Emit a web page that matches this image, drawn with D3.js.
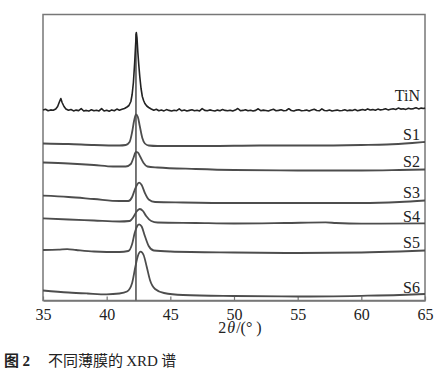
<!DOCTYPE html>
<html><head><meta charset="utf-8">
<script src="https://cdn.jsdelivr.net/npm/d3@7"></script>
<style>
html,body{margin:0;padding:0;background:#fff;}
svg{display:block;}
</style></head>
<body><svg id="chart" width="437" height="378"></svg>
<script>
// ---------- data (2θ in degrees, intensity in arbitrary units, curves stacked) ----------
const seriesNames = ["TiN","S1","S2","S3","S4","S5","S6"];
const xTicks = [35,40,45,50,55,60,65];
const refAngle = 42.3;
const refTop = 267;

const tin = [[35.0,190.5],[35.2,191.2],[35.4,189.8],[35.6,190.6],[35.8,190.2],[36.0,191.5],
[36.15,194],[36.3,199],[36.4,202],[36.5,198],[36.65,194],[36.8,191.5],
[37.0,190.2],[37.2,191],[37.4,189.6],[37.6,190.4],[37.8,189.9],[38.0,191.8],[38.2,189.5],[38.4,190.1],[38.6,189.4],[38.8,190.8],
[39.0,189.7],[39.2,190.3],[39.4,189.6],[39.6,191.9],[39.8,189.5],[40.0,190.2],[40.2,189.3],[40.4,190.6],[40.6,189.8],[40.8,191.4],
[41.0,190.3],[41.2,191.2],[41.4,192],[41.6,193.5],[41.75,195],[41.9,199],[42.0,206],[42.1,218],[42.2,238],[42.27,255],
[42.33,268],[42.38,263],[42.45,248],[42.52,236],[42.6,224],[42.7,212],[42.8,204],[42.9,200],[43.0,197],[43.15,194.5],
[43.3,193],[43.5,191.5],[43.7,190.3],[43.9,191.2],[44.1,189.7],[44.3,190.4],[44.5,189.6],[44.7,190.9],[44.9,190.1],[45.1,189.5],
[45.3,190.3],[45.5,189.8],[45.7,191.6],[45.9,189.7],[46.1,190.4],[46.3,189.5],[46.5,190.1],[46.7,190.7],[46.9,189.8],[47.1,190.3],
[47.3,189.6],[47.5,191.9],[47.7,190.1],[47.9,189.7],[48.1,190.6],[48.3,190.0],[48.5,189.5],[48.7,190.4],[48.9,189.8],[49.1,191.0],
[49.3,190.1],[49.5,189.7],[49.7,190.3],[49.9,189.5],[50.1,190.4],[50.3,192.0],[50.5,189.8],[50.7,190.1],[50.9,190.8],[51.1,189.7],
[51.3,190.3],[51.5,189.5],[51.7,190.1],[51.9,191.7],[52.1,189.8],[52.3,190.4],[52.5,190.0],[52.7,189.5],[52.9,190.4],[53.1,191.2],
[53.3,189.8],[53.5,190.1],[53.7,190.7],[53.9,189.7],[54.1,190.0],[54.3,191.8],[54.5,190.0],[54.7,189.5],[54.9,190.4],[55.1,190.8],
[55.3,189.7],[55.5,190.0],[55.7,190.4],[55.9,189.5],[56.1,190.4],[56.3,191.3],[56.5,190.0],[56.7,189.7],[56.9,191.6],[57.1,190.0],
[57.3,189.7],[57.5,190.4],[57.7,189.5],[57.9,190.0],[58.1,190.4],[58.3,189.7],[58.5,190.0],[58.7,190.8],[58.9,189.8],[59.1,190.4],
[59.3,190.0],[59.5,190.9],[59.7,189.8],[59.9,190.4],[60.1,191.0],[60.3,190.2],[60.5,191.6],[60.7,190.5],[60.9,190.9],[61.1,190.2],
[61.3,191.4],[61.5,190.6],[61.7,191.0],[61.9,191.8],[62.1,190.6],[62.3,191.3],[62.5,191.7],[62.7,191.0],[62.9,192.4],[63.1,191.4],
[63.3,191.8],[63.5,191.1],[63.7,192.3],[63.9,191.5],[64.1,191.9],[64.3,192.8],[64.5,191.6],[64.7,192.4],[64.9,192.0],[65.0,192.6]];

const s1 = [[35,157],[37,156.5],[39,155.5],[41,155],[41.5,155.5],[41.8,158.5],[42.0,168.5],[42.15,179.5],[42.3,186],
[42.45,183.5],[42.6,174.5],[42.8,162.5],[43.0,157],[43.3,155],[44,154.5],[48,154.5],[52,155],[56,155],[60,155.5],
[62,156],[64,157.5],[65,158.5]];
const s2 = [[35,138],[37,137],[39,135.5],[40.5,134],[41.5,134],[41.9,136.5],[42.1,142.5],[42.3,148.5],[42.45,148],
[42.65,143.5],[42.9,137.5],[43.2,134],[44,133],[47,131.5],[50,130.5],[55,130],[60,130],[63,130.5],[65,131]];
const s3 = [[35,104.8],[37,103.5],[39,101.5],[41,99.5],[41.7,99.5],[42.0,103.5],[42.2,110.5],[42.4,116],[42.55,117.8],
[42.75,115.5],[43.0,107.5],[43.3,101],[43.8,98.5],[46,98],[50,97.5],[55,97.5],[60,97.5],[63,98.5],[65,100]];
const s4 = [[35,82.2],[37,81],[39,80],[41,79],[41.8,79.5],[42.1,83.5],[42.35,89],[42.6,91.5],[42.85,89.5],[43.1,84.5],
[43.5,79.5],[44,78],[47,77.5],[50,77],[54,77.5],[57.2,78.1],[58,77.5],[60,76.8],[65,77.2]];
const s5 = [[35,50.5],[36.2,50.8],[36.9,51.4],[37.6,50.5],[39,49],[41,48.5],[41.7,49.5],[42.0,56.5],[42.2,67.5],[42.4,74.5],
[42.55,76.2],[42.75,74],[43.0,64.5],[43.3,54.5],[43.7,50],[45,49],[50,48],[55,47.5],[60,48],[63,49],[65,50]];
const s6 = [[35,10],[37,8],[38.5,7],[40,6.2],[41,7],[41.6,9],[42.0,17.5],[42.25,33.5],[42.45,44.5],[42.67,48.8],
[42.9,45.5],[43.15,33.5],[43.4,20.5],[43.8,11.5],[44.5,7.5],[46,5.5],[50,4.5],[55,4],[60,4.7],[63,5.5],[65,6.5]];

const smooth = [s1,s2,s3,s4,s5,s6];

// ---------- layout ----------
const L = 43, R = 425, T = 14.5, B = 300.5;
const labelBaselines = [101, 140, 167, 198, 222, 248, 293];
const serif = "'Liberation Serif','Times New Roman',serif";

const svg = d3.select("#chart");
const x = d3.scaleLinear().domain([35,65]).range([L,R]);
const y = d3.scaleLinear().domain([0,286]).range([B,T]);

// frame
svg.append("rect").attr("x",L).attr("y",T).attr("width",R-L).attr("height",B-T)
  .attr("fill","none").attr("stroke","#777").attr("stroke-width",1.5);

// x axis (inward ticks)
const xAxis = d3.axisBottom(x).tickValues(xTicks).tickSizeInner(-4).tickSizeOuter(0).tickPadding(8);
const gx = svg.append("g").attr("transform",`translate(0,${B})`).call(xAxis);
gx.select(".domain").attr("stroke","#777").attr("stroke-width",1.5);
gx.selectAll(".tick line").attr("stroke","#777").attr("stroke-width",1.2);
gx.selectAll(".tick text").attr("font-family",serif).attr("font-size",16).attr("fill","#222");

// reference line
svg.append("line").attr("x1",x(refAngle)).attr("x2",x(refAngle)).attr("y1",y(0)).attr("y2",y(refTop))
  .attr("stroke","#555").attr("stroke-width",1.6);

const line = d3.line().x(d=>x(d[0])).y(d=>y(d[1])).curve(d3.curveLinear);
svg.append("path").datum(tin).attr("d",line)
  .attr("fill","none").attr("stroke","#222").attr("stroke-width",1.6).attr("stroke-linejoin","round");

const sline = d3.line().x(d=>x(d[0])).y(d=>y(d[1])).curve(d3.curveMonotoneX);
smooth.forEach(s=>{
  svg.append("path").datum(s).attr("d",sline)
    .attr("fill","none").attr("stroke","#4d4d4d").attr("stroke-width",1.8);
});

// series labels
seriesNames.forEach((n,i)=>{
  svg.append("text").attr("x",R-5).attr("y",labelBaselines[i]).attr("text-anchor","end")
    .attr("font-family",serif).attr("font-size",16).attr("fill","#222").text(n);
});

// axis title
svg.append("text").attr("x",(L+R)/2+6).attr("y",333).attr("text-anchor","middle")
  .attr("font-family",serif).attr("font-size",16).attr("fill","#222")
  .html('2<tspan font-style="italic" dx="1">θ</tspan><tspan dx="1">/(° )</tspan>');

// caption
const c = svg.append("text").attr("x",4).attr("y",366).attr("font-size",15).attr("fill","#222")
  .attr("font-family","'Noto Sans CJK SC',sans-serif");
c.append("tspan").attr("font-weight","bold").text("图 ");
c.append("tspan").attr("font-weight","bold").attr("font-family",serif).text("2");
c.append("tspan").attr("dx",18).text("不同薄膜的 ");
c.append("tspan").attr("font-family",serif).text("XRD");
c.append("tspan").text(" 谱");
</script></body></html>
